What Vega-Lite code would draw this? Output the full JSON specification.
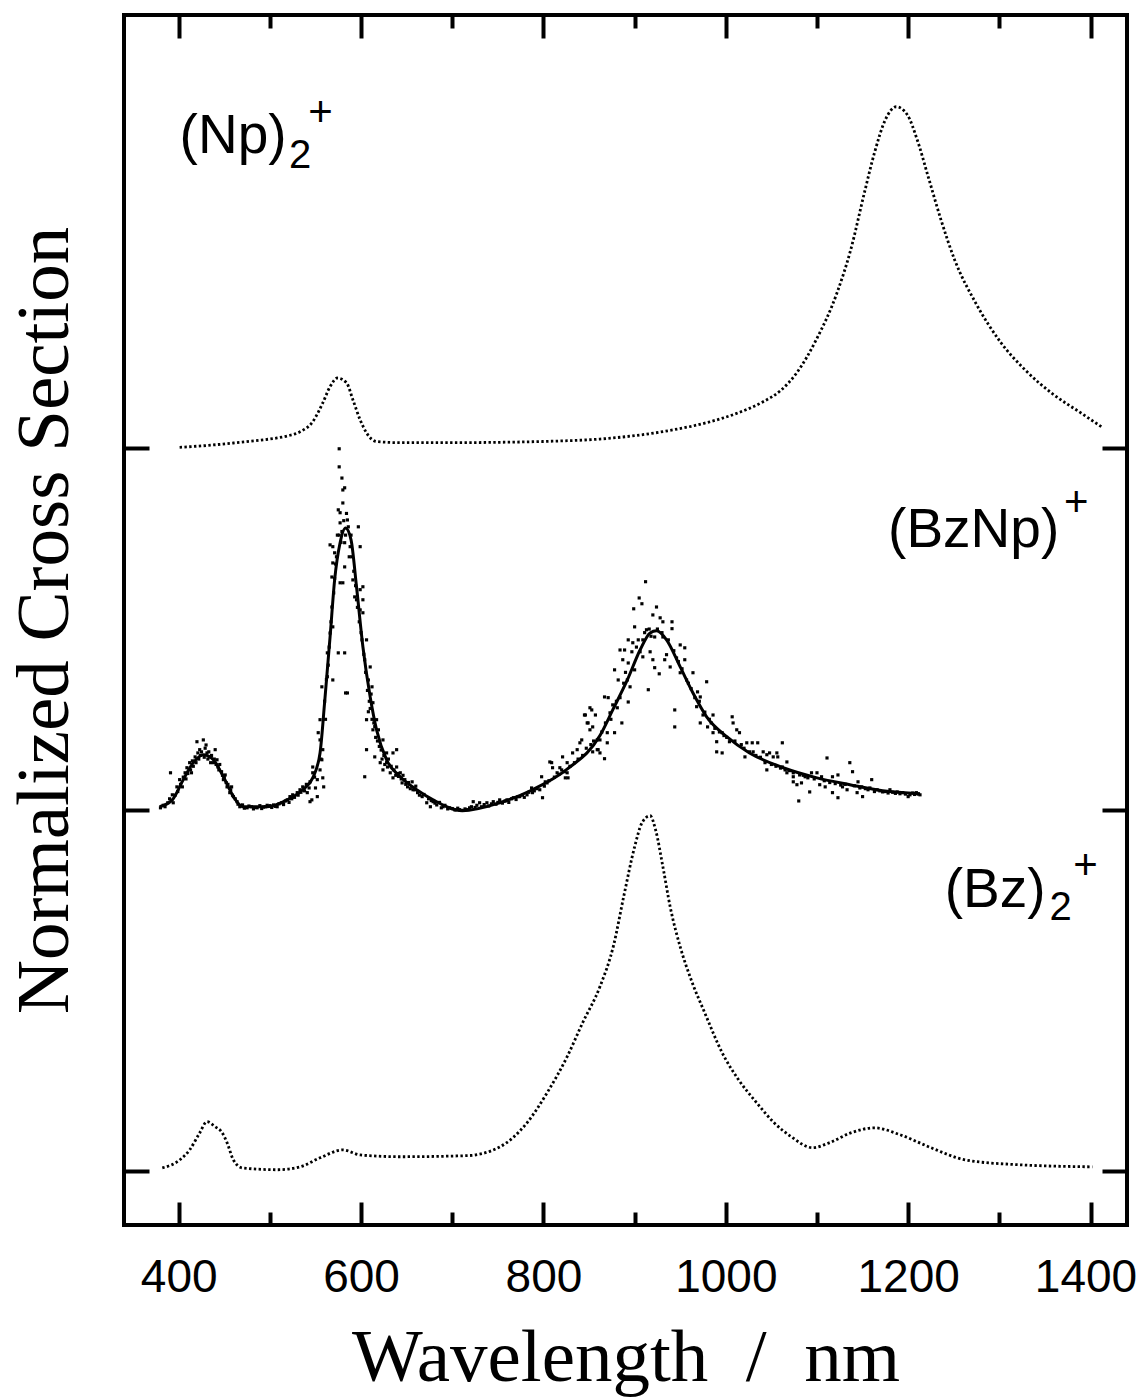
{
"$schema": "https://vega.github.io/schema/vega-lite/v6.json",
"width": 1003,
"height": 1210,
"autosize": {"type": "none"},
"padding": {"left": 124, "top": 15, "right": 14, "bottom": 172},
"config": {
  "view": {"stroke": "black", "strokeWidth": 4},
  "axis": {"domain": false, "grid": false, "tickColor": "black", "tickWidth": 4, "labelFont": "Liberation Sans", "labelFontSize": 46, "labelColor": "black", "labelFlush": false, "titleFont": "Liberation Serif", "titleFontSize": 75, "titleFontWeight": "normal", "titleColor": "black", "zindex": 1}
},
"datasets": {
  "curves": [
    {"s":"Np2","w":401,"y":2.003},{"s":"Np2","w":430,"y":2.008},{"s":"Np2","w":460,"y":2.015},{"s":"Np2","w":490,"y":2.023},{"s":"Np2","w":508,"y":2.029},{"s":"Np2","w":520,"y":2.035},{"s":"Np2","w":533,"y":2.046},{"s":"Np2","w":547,"y":2.074},{"s":"Np2","w":558,"y":2.126},{"s":"Np2","w":566,"y":2.171},{"s":"Np2","w":574,"y":2.195},{"s":"Np2","w":584,"y":2.182},{"s":"Np2","w":591,"y":2.135},{"s":"Np2","w":599,"y":2.079},{"s":"Np2","w":606,"y":2.043},{"s":"Np2","w":617,"y":2.019},{"s":"Np2","w":643,"y":2.016},{"s":"Np2","w":700,"y":2.016},{"s":"Np2","w":752,"y":2.017},{"s":"Np2","w":810,"y":2.020},{"s":"Np2","w":862,"y":2.026},{"s":"Np2","w":939,"y":2.050},{"s":"Np2","w":980,"y":2.072},{"s":"Np2","w":1014,"y":2.099},{"s":"Np2","w":1040,"y":2.128},{"s":"Np2","w":1060,"y":2.160},{"s":"Np2","w":1078,"y":2.210},{"s":"Np2","w":1099,"y":2.300},{"s":"Np2","w":1122,"y":2.431},{"s":"Np2","w":1137,"y":2.550},{"s":"Np2","w":1152,"y":2.708},{"s":"Np2","w":1163,"y":2.818},{"s":"Np2","w":1175,"y":2.910},{"s":"Np2","w":1187,"y":2.946},{"s":"Np2","w":1199,"y":2.924},{"s":"Np2","w":1210,"y":2.854},{"s":"Np2","w":1222,"y":2.752},{"s":"Np2","w":1236,"y":2.633},{"s":"Np2","w":1251,"y":2.522},{"s":"Np2","w":1274,"y":2.403},{"s":"Np2","w":1302,"y":2.292},{"s":"Np2","w":1328,"y":2.218},{"s":"Np2","w":1359,"y":2.150},{"s":"Np2","w":1389,"y":2.099},{"s":"Np2","w":1412,"y":2.060},
    {"s":"Bz2","w":382,"y":0.008},{"s":"Bz2","w":401,"y":0.030},{"s":"Bz2","w":412,"y":0.058},{"s":"Bz2","w":423,"y":0.105},{"s":"Bz2","w":431,"y":0.136},{"s":"Bz2","w":440,"y":0.122},{"s":"Bz2","w":447,"y":0.108},{"s":"Bz2","w":453,"y":0.078},{"s":"Bz2","w":460,"y":0.030},{"s":"Bz2","w":470,"y":0.008},{"s":"Bz2","w":508,"y":0.003},{"s":"Bz2","w":533,"y":0.011},{"s":"Bz2","w":555,"y":0.036},{"s":"Bz2","w":580,"y":0.058},{"s":"Bz2","w":599,"y":0.044},{"s":"Bz2","w":643,"y":0.039},{"s":"Bz2","w":716,"y":0.042},{"s":"Bz2","w":752,"y":0.066},{"s":"Bz2","w":782,"y":0.133},{"s":"Bz2","w":804,"y":0.216},{"s":"Bz2","w":826,"y":0.316},{"s":"Bz2","w":843,"y":0.410},{"s":"Bz2","w":862,"y":0.510},{"s":"Bz2","w":877,"y":0.625},{"s":"Bz2","w":888,"y":0.759},{"s":"Bz2","w":900,"y":0.897},{"s":"Bz2","w":908,"y":0.963},{"s":"Bz2","w":917,"y":0.983},{"s":"Bz2","w":923,"y":0.944},{"s":"Bz2","w":931,"y":0.842},{"s":"Bz2","w":939,"y":0.731},{"s":"Bz2","w":950,"y":0.620},{"s":"Bz2","w":962,"y":0.529},{"s":"Bz2","w":977,"y":0.437},{"s":"Bz2","w":996,"y":0.327},{"s":"Bz2","w":1014,"y":0.252},{"s":"Bz2","w":1034,"y":0.188},{"s":"Bz2","w":1053,"y":0.133},{"s":"Bz2","w":1072,"y":0.094},{"s":"Bz2","w":1095,"y":0.064},{"s":"Bz2","w":1114,"y":0.078},{"s":"Bz2","w":1137,"y":0.105},{"s":"Bz2","w":1163,"y":0.119},{"s":"Bz2","w":1191,"y":0.100},{"s":"Bz2","w":1225,"y":0.064},{"s":"Bz2","w":1263,"y":0.030},{"s":"Bz2","w":1320,"y":0.017},{"s":"Bz2","w":1402,"y":0.011},
    {"s":"fit","w":379,"y":1.008},{"s":"fit","w":393,"y":1.027},{"s":"fit","w":405,"y":1.083},{"s":"fit","w":416,"y":1.130},{"s":"fit","w":427,"y":1.152},{"s":"fit","w":438,"y":1.138},{"s":"fit","w":449,"y":1.091},{"s":"fit","w":460,"y":1.036},{"s":"fit","w":470,"y":1.008},{"s":"fit","w":497,"y":1.008},{"s":"fit","w":519,"y":1.027},{"s":"fit","w":536,"y":1.055},{"s":"fit","w":547,"y":1.088},{"s":"fit","w":555,"y":1.157},{"s":"fit","w":560,"y":1.296},{"s":"fit","w":566,"y":1.478},{"s":"fit","w":571,"y":1.636},{"s":"fit","w":577,"y":1.739},{"s":"fit","w":583,"y":1.780},{"s":"fit","w":589,"y":1.747},{"s":"fit","w":595,"y":1.617},{"s":"fit","w":602,"y":1.451},{"s":"fit","w":610,"y":1.312},{"s":"fit","w":617,"y":1.221},{"s":"fit","w":628,"y":1.138},{"s":"fit","w":643,"y":1.091},{"s":"fit","w":661,"y":1.055},{"s":"fit","w":679,"y":1.027},{"s":"fit","w":711,"y":0.997},{"s":"fit","w":752,"y":1.019},{"s":"fit","w":788,"y":1.055},{"s":"fit","w":826,"y":1.112},{"s":"fit","w":862,"y":1.205},{"s":"fit","w":876,"y":1.276},{"s":"fit","w":892,"y":1.359},{"s":"fit","w":906,"y":1.442},{"s":"fit","w":917,"y":1.489},{"s":"fit","w":924,"y":1.495},{"s":"fit","w":935,"y":1.470},{"s":"fit","w":950,"y":1.395},{"s":"fit","w":964,"y":1.323},{"s":"fit","w":979,"y":1.257},{"s":"fit","w":1001,"y":1.202},{"s":"fit","w":1026,"y":1.157},{"s":"fit","w":1063,"y":1.116},{"s":"fit","w":1100,"y":1.088},{"s":"fit","w":1136,"y":1.069},{"s":"fit","w":1172,"y":1.052},{"s":"fit","w":1213,"y":1.044}
  ],
  "pts": [
    {"w":380,"y":1.005},{"w":383,"y":1.012},{"w":385,"y":1.008},{"w":388,"y":1.019},{"w":390,"y":1.030},{"w":391,"y":1.102},{"w":393,"y":1.041},{"w":394,"y":1.019},{"w":396,"y":1.040},{"w":398,"y":1.063},{"w":399,"y":1.050},{"w":401,"y":1.083},{"w":402,"y":1.070},{"w":404,"y":1.063},{"w":405,"y":1.090},{"w":407,"y":1.102},{"w":408,"y":1.085},{"w":409,"y":1.116},{"w":410,"y":1.100},{"w":412,"y":1.130},{"w":413,"y":1.110},{"w":414,"y":1.102},{"w":415,"y":1.135},{"w":416,"y":1.120},{"w":418,"y":1.146},{"w":419,"y":1.130},{"w":420,"y":1.188},{"w":421,"y":1.157},{"w":422,"y":1.140},{"w":423,"y":1.166},{"w":424,"y":1.150},{"w":425,"y":1.160},{"w":427,"y":1.193},{"w":428,"y":1.145},{"w":429,"y":1.170},{"w":430,"y":1.179},{"w":431,"y":1.157},{"w":432,"y":1.140},{"w":433,"y":1.160},{"w":434,"y":1.146},{"w":435,"y":1.130},{"w":436,"y":1.150},{"w":438,"y":1.130},{"w":439,"y":1.140},{"w":440,"y":1.166},{"w":441,"y":1.125},{"w":442,"y":1.138},{"w":443,"y":1.118},{"w":444,"y":1.110},{"w":445,"y":1.125},{"w":447,"y":1.105},{"w":448,"y":1.095},{"w":449,"y":1.083},{"w":450,"y":1.090},{"w":451,"y":1.096},{"w":452,"y":1.075},{"w":453,"y":1.063},{"w":454,"y":1.070},{"w":456,"y":1.047},{"w":457,"y":1.055},{"w":458,"y":1.063},{"w":459,"y":1.040},{"w":460,"y":1.036},{"w":462,"y":1.030},{"w":464,"y":1.022},{"w":465,"y":1.015},{"w":467,"y":1.008},{"w":468,"y":1.012},{"w":470,"y":1.013},
    {"w":472,"y":1.004},{"w":475,"y":1.005},{"w":477,"y":1.010},{"w":480,"y":1.008},{"w":482,"y":1.002},{"w":484,"y":1.006},{"w":486,"y":1.005},{"w":489,"y":1.011},{"w":491,"y":1.003},{"w":493,"y":1.007},{"w":495,"y":1.008},{"w":497,"y":1.012},{"w":500,"y":1.011},{"w":502,"y":1.006},{"w":504,"y":1.013},{"w":506,"y":1.009},{"w":508,"y":1.008},{"w":510,"y":1.016},{"w":513,"y":1.019},{"w":515,"y":1.014},{"w":517,"y":1.024},{"w":519,"y":1.027},{"w":521,"y":1.020},{"w":522,"y":1.036},{"w":524,"y":1.030},{"w":525,"y":1.041},{"w":527,"y":1.034},{"w":530,"y":1.047},{"w":531,"y":1.040},{"w":533,"y":1.055},{"w":534,"y":1.048},{"w":536,"y":1.063},{"w":538,"y":1.052},{"w":540,"y":1.070},{"w":541,"y":1.047},{"w":543,"y":1.060},{"w":544,"y":1.077},{"w":544,"y":1.022},{"w":546,"y":1.027},{"w":547,"y":1.102},{"w":547,"y":1.118},{"w":549,"y":1.090},{"w":550,"y":1.060},{"w":552,"y":1.083},{"w":552,"y":1.036},{"w":553,"y":1.213},{"w":555,"y":1.110},{"w":555,"y":1.249},{"w":555,"y":1.193},{"w":556,"y":1.140},{"w":557,"y":1.138},{"w":557,"y":1.340},{"w":558,"y":1.166},{"w":558,"y":1.088},{"w":559,"y":1.063},
    {"w":560,"y":1.300},{"w":561,"y":1.250},{"w":562,"y":1.360},{"w":563,"y":1.434},{"w":563,"y":1.368},{"w":564,"y":1.400},{"w":565,"y":1.450},{"w":566,"y":1.489},{"w":566,"y":1.733},{"w":567,"y":1.520},{"w":568,"y":1.644},{"w":568,"y":1.561},{"w":569,"y":1.728},{"w":569,"y":1.683},{"w":569,"y":1.506},{"w":569,"y":1.359},{"w":570,"y":1.600},{"w":571,"y":1.711},{"w":571,"y":1.640},{"w":572,"y":1.680},{"w":573,"y":1.700},{"w":574,"y":1.760},{"w":575,"y":1.830},{"w":575,"y":1.434},{"w":576,"y":1.999},{"w":576,"y":1.949},{"w":576,"y":1.760},{"w":577,"y":1.822},{"w":577,"y":1.794},{"w":577,"y":1.628},{"w":578,"y":1.740},{"w":579,"y":1.918},{"w":579,"y":1.770},{"w":580,"y":1.885},{"w":580,"y":1.849},{"w":580,"y":1.628},{"w":581,"y":1.800},{"w":582,"y":1.891},{"w":582,"y":1.739},{"w":582,"y":1.672},{"w":582,"y":1.434},{"w":583,"y":1.323},{"w":583,"y":1.760},{"w":584,"y":1.820},{"w":585,"y":1.802},{"w":585,"y":1.323},{"w":586,"y":1.783},{"w":587,"y":1.700},{"w":588,"y":1.728},{"w":589,"y":1.760},{"w":590,"y":1.700},{"w":591,"y":1.636},{"w":592,"y":1.660},{"w":593,"y":1.589},{"w":594,"y":1.620},{"w":595,"y":1.581},{"w":596,"y":1.560},{"w":597,"y":1.783},{"w":598,"y":1.520},{"w":599,"y":1.728},{"w":599,"y":1.609},{"w":599,"y":1.553},{"w":600,"y":1.490},{"w":601,"y":1.470},{"w":602,"y":1.617},{"w":602,"y":1.581},{"w":602,"y":1.545},{"w":603,"y":1.430},{"w":604,"y":1.415},{"w":604,"y":1.091},{"w":605,"y":1.380},{"w":606,"y":1.470},{"w":606,"y":1.249},{"w":606,"y":1.166},{"w":607,"y":1.330},{"w":608,"y":1.359},{"w":608,"y":1.271},{"w":609,"y":1.300},{"w":610,"y":1.395},{"w":610,"y":1.280},{"w":611,"y":1.320},{"w":612,"y":1.340},{"w":612,"y":1.250},{"w":613,"y":1.296},{"w":613,"y":1.221},{"w":614,"y":1.240},{"w":615,"y":1.146},{"w":615,"y":1.230},{"w":616,"y":1.200},{"w":617,"y":1.249},{"w":618,"y":1.190},{"w":619,"y":1.221},{"w":620,"y":1.175},{"w":621,"y":1.130},{"w":622,"y":1.165},{"w":623,"y":1.140},{"w":624,"y":1.193},{"w":624,"y":1.110},{"w":625,"y":1.150},{"w":626,"y":1.125},{"w":628,"y":1.157},{"w":628,"y":1.130},{"w":629,"y":1.118},{"w":630,"y":1.140},{"w":632,"y":1.102},{"w":633,"y":1.120},{"w":635,"y":1.157},{"w":635,"y":1.088},{"w":636,"y":1.110},{"w":638,"y":1.095},{"w":639,"y":1.166},{"w":639,"y":1.118},{"w":640,"y":1.100},
    {"w":641,"y":1.092},{"w":643,"y":1.102},{"w":644,"y":1.085},{"w":645,"y":1.074},{"w":646,"y":1.095},{"w":648,"y":1.083},{"w":649,"y":1.070},{"w":651,"y":1.063},{"w":652,"y":1.075},{"w":654,"y":1.058},{"w":656,"y":1.077},{"w":657,"y":1.055},{"w":659,"y":1.055},{"w":660,"y":1.065},{"w":662,"y":1.047},{"w":664,"y":1.040},{"w":667,"y":1.036},{"w":669,"y":1.042},{"w":672,"y":1.019},{"w":674,"y":1.030},{"w":676,"y":1.008},{"w":677,"y":1.025},{"w":679,"y":1.022},{"w":681,"y":1.018},{"w":683,"y":1.013},{"w":686,"y":1.020},{"w":688,"y":1.005},{"w":690,"y":1.008},{"w":692,"y":1.012},{"w":695,"y":1.002},{"w":697,"y":1.005},{"w":700,"y":1.003},{"w":703,"y":0.999},{"w":706,"y":1.004},{"w":708,"y":1.000},{"w":711,"y":0.998},{"w":714,"y":1.002},{"w":716,"y":1.000},{"w":719,"y":1.005},
    {"w":721,"y":1.008},{"w":723,"y":1.022},{"w":725,"y":1.006},{"w":727,"y":1.012},{"w":730,"y":1.019},{"w":732,"y":1.008},{"w":735,"y":1.014},{"w":738,"y":1.019},{"w":740,"y":1.010},{"w":743,"y":1.016},{"w":745,"y":1.022},{"w":748,"y":1.015},{"w":750,"y":1.020},{"w":752,"y":1.027},{"w":755,"y":1.018},{"w":758,"y":1.024},{"w":760,"y":1.027},{"w":762,"y":1.020},{"w":765,"y":1.030},{"w":767,"y":1.033},{"w":770,"y":1.028},{"w":772,"y":1.036},{"w":774,"y":1.036},{"w":777,"y":1.040},{"w":779,"y":1.034},{"w":782,"y":1.041},{"w":784,"y":1.048},{"w":787,"y":1.060},{"w":788,"y":1.047},{"w":790,"y":1.052},{"w":793,"y":1.058},{"w":796,"y":1.055},{"w":798,"y":1.091},{"w":799,"y":1.033},{"w":801,"y":1.065},{"w":802,"y":1.077},{"w":804,"y":1.074},{"w":806,"y":1.080},{"w":807,"y":1.132},{"w":809,"y":1.130},{"w":810,"y":1.116},{"w":812,"y":1.090},{"w":815,"y":1.102},{"w":817,"y":1.098},{"w":818,"y":1.116},{"w":820,"y":1.110},{"w":821,"y":1.146},{"w":823,"y":1.105},{"w":824,"y":1.088},{"w":826,"y":1.102},{"w":826,"y":1.130},{"w":827,"y":1.088},{"w":829,"y":1.120},{"w":832,"y":1.157},{"w":834,"y":1.130},{"w":837,"y":1.166},{"w":838,"y":1.140},{"w":840,"y":1.185},{"w":842,"y":1.193},{"w":843,"y":1.150},{"w":845,"y":1.262},{"w":846,"y":1.262},{"w":847,"y":1.170},{"w":848,"y":1.240},{"w":849,"y":1.240},{"w":851,"y":1.282},{"w":851,"y":1.221},{"w":852,"y":1.180},{"w":853,"y":1.276},{"w":854,"y":1.229},{"w":854,"y":1.160},{"w":855,"y":1.190},{"w":857,"y":1.262},{"w":859,"y":1.193},{"w":859,"y":1.166},{"w":860,"y":1.166},
    {"w":862,"y":1.193},{"w":862,"y":1.157},{"w":864,"y":1.215},{"w":867,"y":1.312},{"w":867,"y":1.141},{"w":868,"y":1.240},{"w":870,"y":1.213},{"w":870,"y":1.185},{"w":871,"y":1.310},{"w":873,"y":1.268},{"w":874,"y":1.250},{"w":876,"y":1.290},{"w":878,"y":1.387},{"w":878,"y":1.213},{"w":880,"y":1.300},{"w":881,"y":1.282},{"w":882,"y":1.359},{"w":884,"y":1.442},{"w":884,"y":1.310},{"w":886,"y":1.240},{"w":887,"y":1.415},{"w":888,"y":1.350},{"w":889,"y":1.442},{"w":890,"y":1.380},{"w":892,"y":1.359},{"w":893,"y":1.470},{"w":893,"y":1.406},{"w":893,"y":1.298},{"w":895,"y":1.340},{"w":897,"y":1.437},{"w":898,"y":1.462},{"w":899,"y":1.556},{"w":900,"y":1.506},{"w":900,"y":1.387},{"w":902,"y":1.450},{"w":904,"y":1.470},{"w":905,"y":1.586},{"w":906,"y":1.437},{"w":908,"y":1.570},{"w":909,"y":1.470},{"w":909,"y":1.423},{"w":911,"y":1.490},{"w":912,"y":1.631},{"w":913,"y":1.498},{"w":915,"y":1.332},{"w":916,"y":1.500},{"w":917,"y":1.437},{"w":918,"y":1.480},{"w":920,"y":1.539},{"w":920,"y":1.415},{"w":922,"y":1.478},{"w":922,"y":1.393},{"w":924,"y":1.561},{"w":925,"y":1.500},{"w":927,"y":1.376},{"w":928,"y":1.531},{"w":930,"y":1.490},{"w":931,"y":1.520},{"w":931,"y":1.478},{"w":933,"y":1.415},{"w":935,"y":1.429},{"w":937,"y":1.470},{"w":939,"y":1.395},{"w":941,"y":1.520},{"w":941,"y":1.501},{"w":943,"y":1.440},{"w":944,"y":1.276},{"w":944,"y":1.229},{"w":946,"y":1.420},{"w":948,"y":1.410},{"w":950,"y":1.456},{"w":950,"y":1.379},{"w":952,"y":1.390},{"w":955,"y":1.448},{"w":955,"y":1.415},{"w":957,"y":1.359},{"w":959,"y":1.350},{"w":962,"y":1.335},{"w":964,"y":1.379},{"w":966,"y":1.310},{"w":968,"y":1.285},{"w":969,"y":1.326},{"w":971,"y":1.300},{"w":972,"y":1.312},{"w":972,"y":1.240},{"w":975,"y":1.262},{"w":977,"y":1.270},{"w":979,"y":1.354},{"w":980,"y":1.229},{"w":982,"y":1.250},{"w":984,"y":1.240},{"w":986,"y":1.262},{"w":986,"y":1.213},{"w":988,"y":1.225},{"w":990,"y":1.188},{"w":990,"y":1.160},{"w":993,"y":1.215},{"w":996,"y":1.213},{"w":996,"y":1.157},{"w":998,"y":1.205},
    {"w":1001,"y":1.200},{"w":1004,"y":1.188},{"w":1007,"y":1.257},{"w":1008,"y":1.240},{"w":1010,"y":1.190},{"w":1012,"y":1.221},{"w":1015,"y":1.213},{"w":1017,"y":1.180},{"w":1020,"y":1.170},{"w":1021,"y":1.146},{"w":1023,"y":1.185},{"w":1026,"y":1.160},{"w":1029,"y":1.185},{"w":1030,"y":1.160},{"w":1033,"y":1.150},{"w":1035,"y":1.185},{"w":1038,"y":1.145},{"w":1041,"y":1.160},{"w":1043,"y":1.130},{"w":1045,"y":1.152},{"w":1045,"y":1.110},{"w":1048,"y":1.157},{"w":1050,"y":1.125},{"w":1052,"y":1.146},{"w":1055,"y":1.120},{"w":1056,"y":1.157},{"w":1057,"y":1.146},{"w":1060,"y":1.115},{"w":1062,"y":1.185},{"w":1062,"y":1.118},{"w":1065,"y":1.110},{"w":1067,"y":1.132},{"w":1067,"y":1.102},{"w":1070,"y":1.108},{"w":1074,"y":1.102},{"w":1074,"y":1.091},{"w":1074,"y":1.077},{"w":1078,"y":1.069},{"w":1080,"y":1.024},{"w":1081,"y":1.096},{"w":1083,"y":1.074},{"w":1085,"y":1.095},{"w":1087,"y":1.091},{"w":1090,"y":1.088},{"w":1092,"y":1.049},{"w":1094,"y":1.102},{"w":1097,"y":1.085},{"w":1100,"y":1.102},{"w":1103,"y":1.069},{"w":1105,"y":1.091},{"w":1108,"y":1.080},{"w":1109,"y":1.063},{"w":1111,"y":1.143},{"w":1114,"y":1.075},{"w":1117,"y":1.091},{"w":1117,"y":1.047},{"w":1120,"y":1.072},{"w":1123,"y":1.096},{"w":1123,"y":1.033},{"w":1126,"y":1.068},{"w":1128,"y":1.063},{"w":1131,"y":1.070},{"w":1133,"y":1.055},{"w":1136,"y":1.130},{"w":1139,"y":1.105},{"w":1141,"y":1.066},{"w":1144,"y":1.047},{"w":1145,"y":1.077},{"w":1147,"y":1.060},{"w":1149,"y":1.063},{"w":1150,"y":1.036},{"w":1153,"y":1.058},{"w":1156,"y":1.055},{"w":1158,"y":1.060},{"w":1160,"y":1.083},{"w":1163,"y":1.050},{"w":1166,"y":1.055},{"w":1169,"y":1.052},{"w":1172,"y":1.049},{"w":1175,"y":1.050},{"w":1178,"y":1.046},{"w":1180,"y":1.055},{"w":1183,"y":1.048},{"w":1186,"y":1.045},{"w":1188,"y":1.049},{"w":1191,"y":1.044},{"w":1194,"y":1.047},{"w":1197,"y":1.043},{"w":1200,"y":1.036},{"w":1202,"y":1.041},{"w":1205,"y":1.046},{"w":1207,"y":1.042},{"w":1209,"y":1.047},{"w":1211,"y":1.043},{"w":1213,"y":1.041}
  ]
},
"layer": [
  {
    "data": {"name": "curves"},
    "transform": [{"filter": "datum.s === 'Np2'"}],
    "mark": {"type": "line", "color": "black", "strokeWidth": 2.8, "strokeDash": [2.4, 2.4], "interpolate": "monotone"},
    "encoding": {
      "x": {"field": "w", "type": "quantitative", "scale": {"domain": [340, 1440], "nice": false, "zero": false},
        "axis": {"orient": "bottom", "values": [400, 600, 800, 1000, 1200, 1400], "format": "d", "tickSize": -23, "labelPadding": 53, "labelOffset": {"condition": {"test": "datum.value === 1400", "value": -5}, "value": 0}, "title": "Wavelength\u00a0 /\u00a0 nm", "titlePadding": 21}},
      "y": {"field": "y", "type": "quantitative", "scale": {"domain": [-0.15, 3.2], "nice": false, "zero": false},
        "axis": {"orient": "left", "values": [0, 1, 2], "tickSize": -25, "labels": false, "title": "Normalized Cross Section", "titlePadding": 39}}
    }
  },
  {
    "data": {"name": "curves"},
    "transform": [{"filter": "datum.s === 'Bz2'"}],
    "mark": {"type": "line", "color": "black", "strokeWidth": 2.8, "strokeDash": [2.4, 2.4], "interpolate": "monotone"},
    "encoding": {
      "x": {"field": "w", "type": "quantitative",
        "axis": {"orient": "bottom", "values": [500, 700, 900, 1100, 1300], "tickSize": -13, "labels": false, "title": null}},
      "y": {"field": "y", "type": "quantitative",
        "axis": {"orient": "right", "values": [0, 1, 2], "tickSize": -25, "labels": false, "title": null}}
    }
  },
  {
    "data": {"name": "pts"},
    "mark": {"type": "point", "shape": "square", "filled": true, "size": 10, "color": "black", "opacity": 1},
    "encoding": {
      "x": {"field": "w", "type": "quantitative",
        "axis": {"orient": "top", "values": [400, 600, 800, 1000, 1200, 1400], "tickSize": -23, "labels": false, "title": null}},
      "y": {"field": "y", "type": "quantitative", "axis": null}
    }
  },
  {
    "data": {"name": "curves"},
    "transform": [{"filter": "datum.s === 'fit'"}],
    "mark": {"type": "line", "color": "black", "strokeWidth": 3, "interpolate": "monotone"},
    "encoding": {
      "x": {"field": "w", "type": "quantitative",
        "axis": {"orient": "top", "values": [500, 700, 900, 1100, 1300], "tickSize": -13, "labels": false, "title": null}},
      "y": {"field": "y", "type": "quantitative", "axis": null}
    }
  },
  {
    "data": {"values": [{}]},
    "mark": {"type": "text", "text": "(Np)", "font": "Liberation Sans", "fontSize": 55, "align": "left", "baseline": "alphabetic", "color": "black"},
    "encoding": {"x": {"datum": 401, "type": "quantitative", "axis": null}, "y": {"datum": 2.818, "type": "quantitative", "axis": null}}
  },
  {
    "data": {"values": [{}]},
    "mark": {"type": "text", "text": "2", "font": "Liberation Sans", "fontSize": 40, "align": "left", "baseline": "alphabetic", "color": "black"},
    "encoding": {"x": {"datum": 521, "type": "quantitative", "axis": null}, "y": {"datum": 2.777, "type": "quantitative", "axis": null}}
  },
  {
    "data": {"values": [{}]},
    "mark": {"type": "text", "text": "+", "font": "Liberation Sans", "fontSize": 42, "align": "left", "baseline": "alphabetic", "color": "black"},
    "encoding": {"x": {"datum": 542, "type": "quantitative", "axis": null}, "y": {"datum": 2.892, "type": "quantitative", "axis": null}}
  },
  {
    "data": {"values": [{}]},
    "mark": {"type": "text", "text": "(BzNp)", "font": "Liberation Sans", "fontSize": 55, "align": "left", "baseline": "alphabetic", "color": "black"},
    "encoding": {"x": {"datum": 1178, "type": "quantitative", "axis": null}, "y": {"datum": 1.728, "type": "quantitative", "axis": null}}
  },
  {
    "data": {"values": [{}]},
    "mark": {"type": "text", "text": "+", "font": "Liberation Sans", "fontSize": 42, "align": "left", "baseline": "alphabetic", "color": "black"},
    "encoding": {"x": {"datum": 1371, "type": "quantitative", "axis": null}, "y": {"datum": 1.812, "type": "quantitative", "axis": null}}
  },
  {
    "data": {"values": [{}]},
    "mark": {"type": "text", "text": "(Bz)", "font": "Liberation Sans", "fontSize": 55, "align": "left", "baseline": "alphabetic", "color": "black"},
    "encoding": {"x": {"datum": 1240, "type": "quantitative", "axis": null}, "y": {"datum": 0.731, "type": "quantitative", "axis": null}}
  },
  {
    "data": {"values": [{}]},
    "mark": {"type": "text", "text": "2", "font": "Liberation Sans", "fontSize": 40, "align": "left", "baseline": "alphabetic", "color": "black"},
    "encoding": {"x": {"datum": 1355, "type": "quantitative", "axis": null}, "y": {"datum": 0.695, "type": "quantitative", "axis": null}}
  },
  {
    "data": {"values": [{}]},
    "mark": {"type": "text", "text": "+", "font": "Liberation Sans", "fontSize": 42, "align": "left", "baseline": "alphabetic", "color": "black"},
    "encoding": {"x": {"datum": 1381, "type": "quantitative", "axis": null}, "y": {"datum": 0.809, "type": "quantitative", "axis": null}}
  }
],
"resolve": {"axis": {"x": "independent", "y": "independent"}}
}
